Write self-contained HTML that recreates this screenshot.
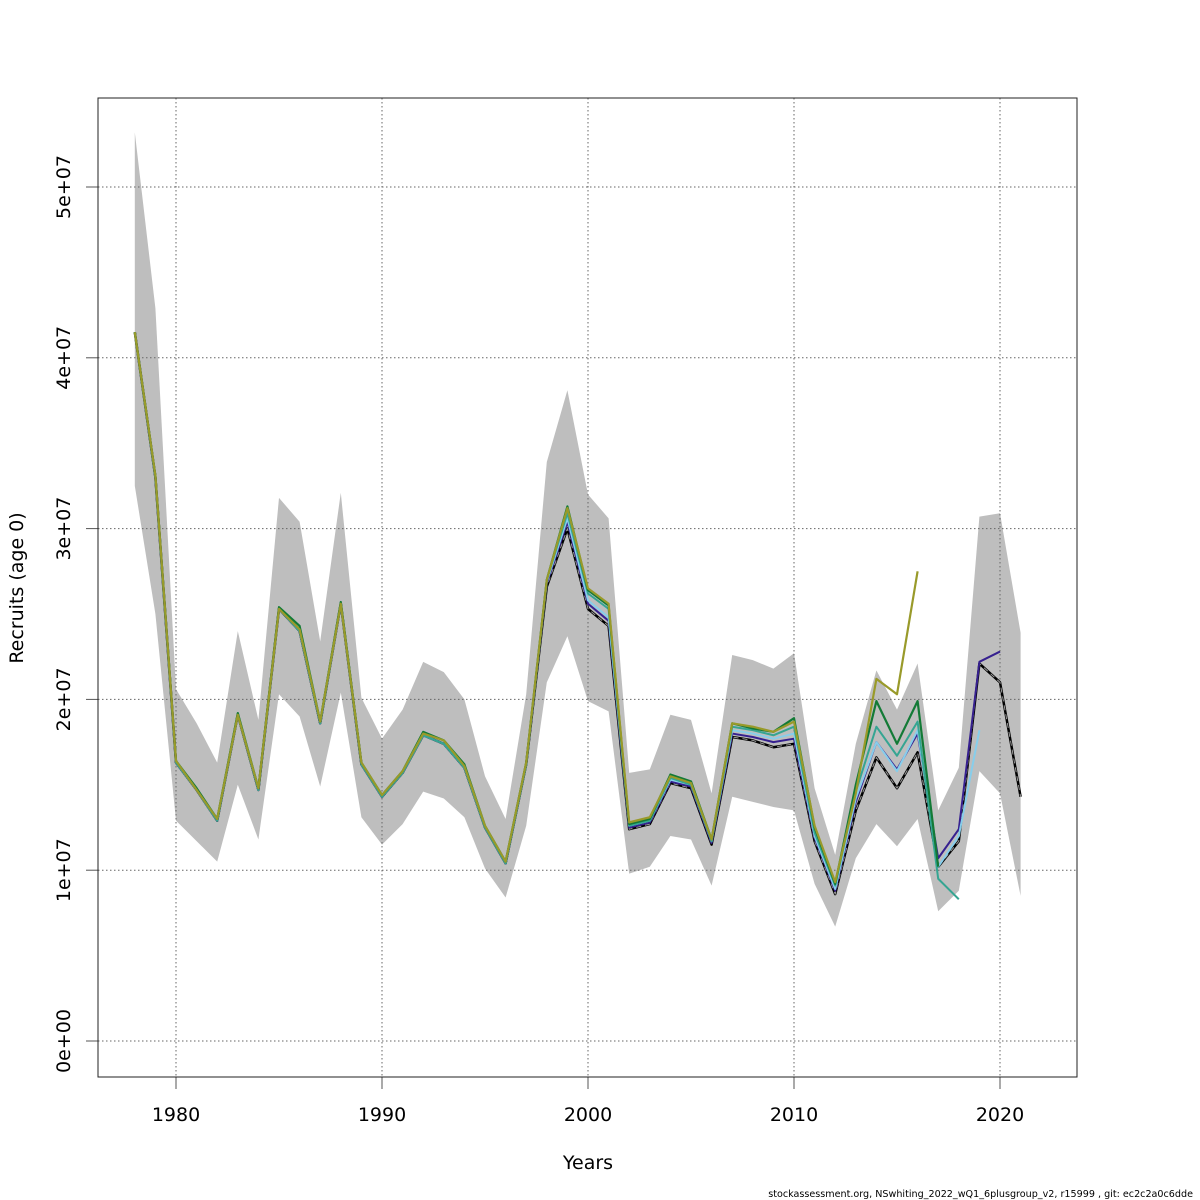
<!DOCTYPE html>
<html><head><meta charset="utf-8"><style>
html,body{margin:0;padding:0;background:#fff;}
svg{display:block;font-family:"DejaVu Sans","Liberation Sans",sans-serif;}
</style></head><body>
<svg id="chart" width="1200" height="1200" viewBox="0 0 1200 1200" xmlns="http://www.w3.org/2000/svg">
<rect width="1200" height="1200" fill="#fff"/>
<g id="band"></g><g id="grid"></g><g id="lines"></g><g id="axes"></g>
<text x="588" y="1169" font-size="19" text-anchor="middle">Years</text>
<text transform="translate(23,588) rotate(-90)" font-size="19" text-anchor="middle">Recruits (age 0)</text>
<text x="1193" y="1197" font-size="9.6" text-anchor="end">stockassessment.org, NSwhiting_2022_wQ1_6plusgroup_v2, r15999 , git: ec2c2a0c6dde</text>
</svg>
<script>
const years=[1978,1979,1980,1981,1982,1983,1984,1985,1986,1987,1988,1989,1990,1991,1992,1993,1994,1995,1996,1997,1998,1999,2000,2001,2002,2003,2004,2005,2006,2007,2008,2009,2010,2011,2012,2013,2014,2015,2016,2017,2018,2019,2020,2021];
const recruits=[41.5,33,16.3,14.7,12.9,19.1,14.7,25.3,24.0,18.6,25.6,16.2,14.3,15.7,17.9,17.4,16.0,12.5,10.4,16.2,26.6,30.0,25.3,24.3,12.4,12.7,15.1,14.8,11.5,17.8,17.6,17.2,17.4,11.7,8.6,13.5,16.6,14.8,16.9,10.2,11.7,22.1,21.0,14.3];
const ciHigh=[53.2,42.9,20.6,18.6,16.3,24.0,18.8,31.8,30.4,23.4,32.1,20.1,17.7,19.4,22.2,21.6,20.0,15.5,13.0,20.3,33.9,38.1,32.0,30.6,15.7,15.9,19.1,18.8,14.5,22.6,22.3,21.8,22.7,14.8,10.9,17.4,21.7,19.4,22.1,13.5,16.0,30.7,30.9,23.9];
const ciLow=[32.5,25.0,12.9,11.7,10.5,15.0,11.8,20.3,19.0,14.9,20.4,13.1,11.5,12.7,14.6,14.2,13.1,10.1,8.4,12.6,21.0,23.7,19.9,19.3,9.8,10.2,12.0,11.8,9.1,14.3,14.0,13.7,13.5,9.2,6.7,10.7,12.7,11.4,13.0,7.6,8.8,15.8,14.5,8.5];
const peelPurple=[41.5,33,16.3,14.7,12.9,19.1,14.7,25.3,24.0,18.6,25.6,16.2,14.3,15.7,17.9,17.4,16.0,12.5,10.4,16.2,26.8,30.4,25.6,24.6,12.5,12.8,15.2,14.9,11.6,18.0,17.8,17.5,17.7,11.9,8.8,14.0,17.5,15.9,18.0,10.7,12.4,22.2,22.8];
const peelLightBlue=[41.5,33,16.3,14.7,12.9,19.1,14.7,25.3,24.0,18.6,25.6,16.2,14.3,15.7,17.9,17.4,16.0,12.5,10.4,16.2,26.9,30.6,25.8,24.8,12.6,12.9,15.3,15.0,11.7,18.2,18.0,17.7,18.0,12.0,8.9,14.2,17.5,15.8,18.2,10.2,12.0,18.2];
const peelTeal=[41.5,33,16.3,14.7,12.9,19.1,14.7,25.3,24.0,18.6,25.6,16.2,14.3,15.7,17.9,17.4,16.0,12.5,10.4,16.2,27.0,30.9,26.2,25.3,12.6,12.9,15.4,15.0,11.7,18.4,18.2,17.9,18.4,12.2,9.1,14.6,18.4,16.7,18.7,9.5,8.3];
const peelGreen=[41.5,33.1,16.4,14.8,13.0,19.2,14.8,25.4,24.3,18.7,25.7,16.3,14.4,15.8,18.1,17.6,16.2,12.6,10.5,16.3,27.0,31.3,26.4,25.5,12.7,13.0,15.6,15.2,11.8,18.6,18.3,18.1,18.9,12.5,9.2,15.0,19.9,17.4,19.9,10.2];
const peelOlive=[41.5,33.1,16.4,14.7,13.0,19.1,14.8,25.3,24.1,18.7,25.6,16.3,14.4,15.8,18.0,17.6,16.1,12.6,10.5,16.3,27.0,31.2,26.5,25.6,12.8,13.1,15.5,15.1,11.8,18.6,18.4,18.1,18.7,12.6,9.3,14.5,21.2,20.3,27.5];
const yTicks=[0,10,20,30,40,50];
const yTickLabels=["0e+00","1e+07","2e+07","3e+07","4e+07","5e+07"];
const xTicks=[1980,1990,2000,2010,2020];

const NS="http://www.w3.org/2000/svg";
const L=98,R=1077,T=98,B=1077;
const X=y=>176+(y-1980)*20.6;
const Y=v=>1041-v*17.08;
function mk(tag,attrs,parent){const e=document.createElementNS(NS,tag);for(const k in attrs)e.setAttribute(k,attrs[k]);parent.appendChild(e);return e;}
const band=document.getElementById('band'),grid=document.getElementById('grid'),lines=document.getElementById('lines'),axes=document.getElementById('axes');

let pts=years.map((y,i)=>X(y)+","+Y(ciHigh[i]));
for(let i=years.length-1;i>=0;i--)pts.push(X(years[i])+","+Y(ciLow[i]));
const poly=mk('polygon',{points:pts.join(' '),fill:'#bebebe',stroke:'none'},band);



yTicks.forEach((v,i)=>{
  const g=mk('line',{x1:L,x2:R,y1:Y(v),y2:Y(v),stroke:'#666','stroke-dasharray':'1.5,2.5','stroke-width':1},grid);
  
  
  const t=mk('line',{x1:L-12,x2:L,y1:Y(v),y2:Y(v),stroke:'#555','stroke-width':1},axes);
  
  
  const tx=mk('text',{transform:`translate(70,${Y(v)}) rotate(-90)`,'font-size':19,'text-anchor':'middle'},axes);
  tx.textContent=yTickLabels[i];
  
  
});
xTicks.forEach(v=>{
  const g=mk('line',{x1:X(v),x2:X(v),y1:T,y2:B,stroke:'#666','stroke-dasharray':'1.5,2.5','stroke-width':1},grid);
  
  
  const t=mk('line',{x1:X(v),x2:X(v),y1:B,y2:B+12,stroke:'#555','stroke-width':1},axes);
  
  
  const tx=mk('text',{x:X(v),y:1121,'font-size':19,'text-anchor':'middle'},axes);
  tx.textContent=v;
  
  
});
const box=mk('rect',{x:L,y:T,width:R-L,height:B-T,fill:'none',stroke:'#222','stroke-width':1},axes);



function series(vals,color,w,name,dash){
  const p=vals.map((v,i)=>X(years[i])+","+Y(v)).join(' ');
  const e=mk('polyline',{points:p,fill:'none',stroke:color,'stroke-width':w,'stroke-linejoin':'round'},lines);
  if(dash)e.setAttribute('stroke-dasharray',dash);
  
  
}
series(recruits,'#000',2.5,'recruits-final-line');
series(recruits,'#9a9a9a',1,'recruits-final-dash',"5,4");
series(peelPurple,'#36208f',2,'retro-peel-2020-line');
series(peelLightBlue,'#87ceeb',2,'retro-peel-2019-line');
series(peelTeal,'#35a592',2,'retro-peel-2018-line');
series(peelGreen,'#137a36',2.2,'retro-peel-2017-line');
series(peelOlive,'#999a2a',2.2,'retro-peel-2016-line');
</script>
</body></html>
